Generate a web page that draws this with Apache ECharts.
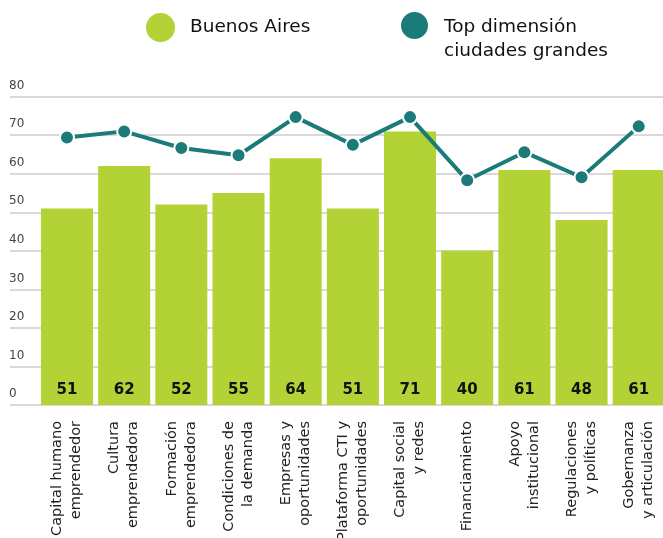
<!DOCTYPE html>
<html>
<head>
<meta charset="utf-8">
<script src="https://cdn.jsdelivr.net/npm/echarts@6/dist/echarts.min.js"></script>
<style>
  html, body { margin: 0; padding: 0; background: #fff; }
  #chart { width: 663px; height: 538px; }
</style>
</head>
<body>
<div id="chart"></div>
<script>
// Dimension names (two-line labels on the category axis)
const categories = [
  'Capital humano\nemprendedor',
  'Cultura\nemprendedora',
  'Formación\nemprendedora',
  'Condiciones de\nla demanda',
  'Empresas y\noportunidades',
  'Plataforma CTI y\noportunidades',
  'Capital social\ny redes',
  'Financiamiento',
  'Apoyo\ninstitucional',
  'Regulaciones\ny políticas',
  'Gobernanza\ny articulación'
];
// Buenos Aires scores per dimension
const buenosAires = [51, 62, 52, 55, 64, 51, 71, 40, 61, 48, 61];
// Best score per dimension among large cities
const topCiudades = [69.4, 71.0, 66.7, 64.8, 74.7, 67.5, 74.7, 58.3, 65.6, 59.1, 72.3];
// Value axis range and step
const yMin = 0, yMax = 80, yStep = 10;

const SERIES_BA = 'Buenos Aires';
const SERIES_TOP = 'Top dimensión\nciudades grandes';

const FONT = '"DejaVu Sans", "Noto Sans", sans-serif';
const LIME = '#b3d235';
const TEAL = '#1b7b78';
const LEGEND_SIZE = 18.5;

const chart = echarts.init(document.getElementById('chart'), null, { renderer: 'canvas' });

chart.setOption({
  animation: false,
  textStyle: { fontFamily: FONT },
  legend: [
    {
      data: [SERIES_BA],
      left: 146, top: 13, padding: 0,
      icon: 'circle', itemWidth: 29, itemHeight: 29, itemGap: 0,
      textStyle: { fontFamily: FONT, fontSize: LEGEND_SIZE, color: '#111', padding: [0, 0, 0, 10] }
    },
    {
      // first text line sits level with the marker, second line hangs below it
      data: [SERIES_TOP],
      left: 399, top: -8, padding: 0,
      icon: 'circle', itemWidth: 29, itemHeight: 29, itemGap: 0,
      formatter: (name) => '{s| }\n' + name.split('\n').map(t => '{a|' + t + '}').join('\n'),
      textStyle: {
        fontFamily: FONT, fontSize: LEGEND_SIZE, color: '#111', padding: [0, 0, 0, 10],
        rich: {
          s: { fontSize: LEGEND_SIZE, lineHeight: 28 },
          a: { fontFamily: FONT, fontSize: LEGEND_SIZE, color: '#111', lineHeight: 24 }
        }
      }
    }
  ],
  grid: [
    { left: 38.4, right: -4.3, top: 96.7, bottom: 133, outerBoundsMode: 'none', containLabel: false },
    { left: 10, right: 0, top: 96.7, bottom: 133, outerBoundsMode: 'none', containLabel: false }
  ],
  xAxis: [
    {
      type: 'category', gridIndex: 0, data: categories,
      axisLine: { show: false }, axisTick: { show: false },
      axisLabel: {
        interval: 0, rotate: 90, margin: 16,
        fontFamily: FONT, fontSize: 14.5, color: '#222', lineHeight: 19
      }
    },
    { type: 'category', gridIndex: 1, data: ['a'], show: false }
  ],
  yAxis: [
    { type: 'value', gridIndex: 0, min: yMin, max: yMax, interval: yStep, show: false },
    {
      type: 'value', gridIndex: 1, min: yMin, max: yMax, interval: yStep,
      axisLine: { show: false }, axisTick: { show: false },
      splitLine: { lineStyle: { color: '#d9d9d9', width: 2 } },
      axisLabel: {
        inside: true, margin: -1, verticalAlign: 'bottom',
        padding: [0, 0, 5, 0],
        fontFamily: FONT, fontSize: 12, color: '#444'
      }
    }
  ],
  series: [
    {
      name: SERIES_BA, type: 'bar', xAxisIndex: 0, yAxisIndex: 0,
      data: buenosAires, barCategoryGap: '9%',
      itemStyle: { color: LIME },
      label: {
        show: true, position: 'insideBottom', distance: 7,
        fontFamily: FONT, fontSize: 15, fontWeight: 'bold', color: '#111'
      },
      z: 2
    },
    {
      name: SERIES_TOP, type: 'line', xAxisIndex: 0, yAxisIndex: 0,
      data: topCiudades,
      lineStyle: { color: TEAL, width: 4 },
      itemStyle: { color: TEAL, borderColor: '#fff', borderWidth: 2 },
      symbol: 'circle', symbolSize: 14,
      z: 3
    }
  ]
});
</script>
</body>
</html>
